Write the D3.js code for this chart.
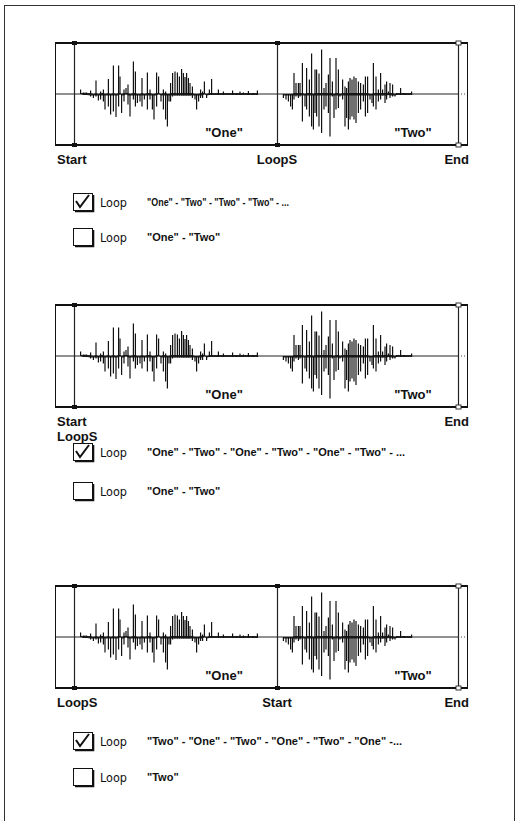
<!DOCTYPE html>
<html>
<head>
<meta charset="utf-8">
<script src="https://cdn.jsdelivr.net/npm/d3@7"></script>
<style>
  html, body { margin: 0; padding: 0; background: #fff; }
  svg { display: block; }
  .lbl { font-family: "Liberation Sans", Arial, sans-serif; font-weight: bold; font-size: 13px; fill: #111; }
  .seq { font-family: "Liberation Sans", Arial, sans-serif; font-weight: bold; font-size: 11px; fill: #111; }
  .loop { font-family: "Liberation Sans Narrow", "DejaVu Sans Condensed", sans-serif; font-stretch: condensed; font-size: 12.5px; fill: #111; }
</style>
</head>
<body>
<svg id="chart" width="520" height="821"></svg>
<script>
// ---------- DATA ----------
// Sample "One": time (ms), positive peak (%), negative peak (%)
const oneTimes = [128,142,150,158,178,192,205,217,228,242,250,267,278,292,305,318,325,333,345,355,365,375,392,402,412,425,435,447,462,475,487,495,508,518,530,542,553,562,570,578,588,600,612,622,633,642,650,658,667,675,687,700,708,718,728,738,747,758,772,783,817,842,888,908,925,942,967,992,1012];
const oneUp    = [9,3,3,3,7,0,27,0,5,9,0,30,0,57,0,57,35,0,9,12,19,0,65,45,0,0,32,0,43,9,0,0,43,35,0,9,5,0,0,22,42,45,43,35,50,42,34,42,32,22,15,0,0,0,9,5,25,0,9,30,9,5,7,2,5,3,6,2,7];
const oneDown  = [0,-2,-2,-2,-5,-8,-5,-13,-11,-15,-31,-25,-41,-35,-46,-25,0,-38,-15,0,-21,-45,-11,-25,-18,-15,-25,-11,-31,-11,-31,-51,-25,0,-15,-31,-51,-65,-15,-15,-5,-3,-3,-3,-3,-3,-3,-3,-3,-3,-8,-11,-31,-15,-8,-8,0,-8,-2,-2,-2,-2,-2,-2,-2,-2,-2,-2,-2];
// Sample "Two"
const twoTimes = [1142,1155,1167,1178,1187,1195,1205,1217,1225,1237,1250,1258,1272,1283,1292,1300,1308,1320,1333,1345,1355,1367,1375,1387,1395,1405,1417,1425,1438,1450,1458,1467,1475,1485,1495,1505,1517,1528,1542,1552,1563,1575,1585,1592,1605,1617,1628,1638,1650,1658,1667,1675,1688,1700,1708,1728,1745,1783];
const twoUp    = [0,0,0,0,0,42,22,22,22,62,0,52,29,81,0,49,49,41,89,12,22,39,72,25,0,72,49,0,29,15,12,25,32,29,35,32,25,22,19,35,35,0,0,62,35,9,42,9,19,25,5,22,19,0,2,12,2,5];
const twoDown  = [-8,-11,-15,-25,-31,-11,-5,-8,-5,-55,-25,-31,-45,-65,-71,-38,-45,-65,-78,-31,-25,-38,-85,-5,-48,-31,-28,-5,-11,-65,-48,-71,-51,-45,-51,-58,-38,-31,-15,-45,-38,-11,-18,-25,-31,-15,-11,-3,-18,-11,-2,-8,-5,-5,-2,-2,-2,-2];

const sampleNames = ['"One"', '"Two"'];
const sampleLabelTimes = [845, 1790];
const timeDomain = [0, 2065];

// Marker positions (ms) per panel
const markerStart = [95, 95, 1110];
const markerLoopS = [1110, 95, 95];
const markerEnd   = [2015, 2015, 2015];

// Text rows
const loopLabel = "Loop";
const seqChecked   = ['"One" - "Two" - "Two" - "Two" - ...',
                      '"One" - "Two" - "One" - "Two" - "One" - "Two" - ...',
                      '"Two" - "One" - "Two" - "One" - "Two" - "One" -...'];
const seqUnchecked = ['"One" - "Two"', '"One" - "Two"', '"Two"'];

// ---------- LAYOUT ----------
const svg = d3.select("#chart");
const panelTops = [43, 305, 586];
const panelH = 102;
const rowYs = [[202, 237], [452, 491], [741, 777]];
const seqCheckedWidth = [142, null, null];

const x = d3.scaleLinear().domain(timeDomain).range([55, 468]);

// outer frame
svg.append("rect").attr("x", 4.5).attr("y", 5.5).attr("width", 510).attr("height", 840)
  .attr("fill", "none").attr("stroke", "#333").attr("stroke-width", 1);

function drawPanel(i) {
  const top = panelTops[i], bot = top + panelH;
  const y = d3.scaleLinear().domain([-100, 100]).range([bot - 1, top + 1]);
  const g = svg.append("g");
  const y0 = y(0);

  // zero line: solid to End, dotted after
  g.append("line").attr("x1", x(timeDomain[0])).attr("x2", x(markerEnd[i]))
    .attr("y1", y0).attr("y2", y0).attr("stroke", "#222").attr("stroke-width", 1);
  g.append("line").attr("x1", x(markerEnd[i])).attr("x2", x(timeDomain[1]))
    .attr("y1", y0).attr("y2", y0).attr("stroke", "#444").attr("stroke-width", 1)
    .attr("stroke-dasharray", "1,2");

  // waveforms
  function wave(times, ups, downs) {
    const pts = times.map((t, k) => [t, ups[k], downs[k]]);
    g.append("path")
      .datum(pts)
      .attr("d", d3.area().x(d => x(d[0])).y0(d => y(Math.max(d[2], -3))).y1(d => y(Math.min(d[1], 2))))
      .attr("fill", "#222");
    g.selectAll(null).data(pts).enter().append("line")
      .attr("x1", d => x(d[0])).attr("x2", d => x(d[0]))
      .attr("y1", d => y(d[2])).attr("y2", d => y(d[1]))
      .attr("stroke", "#111").attr("stroke-width", 1.2);
  }
  wave(oneTimes, oneUp, oneDown);
  wave(twoTimes, twoUp, twoDown);

  // sample names
  sampleNames.forEach((n, k) => {
    g.append("text").attr("class", "lbl").attr("x", x(sampleLabelTimes[k])).attr("y", bot - 8)
      .attr("text-anchor", "middle").text(n);
  });

  // box
  g.append("rect").attr("x", x(timeDomain[0]) + 0.5).attr("y", top).attr("width", x(timeDomain[1]) - x(timeDomain[0]) - 1)
    .attr("height", panelH).attr("fill", "none").attr("stroke", "#111").attr("stroke-width", 1);
  g.append("line").attr("x1", x(timeDomain[0])).attr("x2", x(timeDomain[1])).attr("y1", top).attr("y2", top)
    .attr("stroke", "#111").attr("stroke-width", 2.2);
  g.append("line").attr("x1", x(timeDomain[0])).attr("x2", x(timeDomain[1])).attr("y1", bot).attr("y2", bot)
    .attr("stroke", "#111").attr("stroke-width", 1.8);

  // markers
  function marker(t, filled) {
    const mx = Math.round(x(t)) + 0.5;
    g.append("line").attr("x1", mx).attr("x2", mx).attr("y1", top).attr("y2", bot)
      .attr("stroke", "#222").attr("stroke-width", 1.2);
    [top, bot].forEach(yy => {
      g.append("rect").attr("x", mx - 2.5).attr("y", yy - 2).attr("width", 5).attr("height", 4)
        .attr("fill", filled ? "#111" : "#fff").attr("stroke", "#222").attr("stroke-width", filled ? 0 : 0.9);
    });
  }
  marker(markerStart[i], true);
  if (markerLoopS[i] !== markerStart[i]) marker(markerLoopS[i], true);
  marker(markerEnd[i], false);

  // marker labels
  const ly = bot + 19;
  const ends = [{name: "Start", t: markerStart[i]}, {name: "LoopS", t: markerLoopS[i]}, {name: "End", t: markerEnd[i]}];
  ends.forEach(e => {
    let anchor = "middle", xx = x(e.t), yy = ly;
    if (e.name === "End") { anchor = "end"; xx = x(timeDomain[1]) + 1; }
    else if (e.t === markerStart[0]) { anchor = "start"; xx = x(timeDomain[0]) + 2; }
    if (e.name === "LoopS" && markerLoopS[i] === markerStart[i]) yy = ly + 15;
    g.append("text").attr("class", "lbl").attr("x", xx).attr("y", yy).attr("text-anchor", anchor).text(e.name);
  });

  // rows
  [[true, seqChecked[i]], [false, seqUnchecked[i]]].forEach(([checked, txt], r) => {
    const cy = rowYs[i][r];
    const bx = 73, by = cy - 9, bw = 19, bh = 17;
    g.append("rect").attr("x", bx + 0.5).attr("y", by + 0.5).attr("width", bw).attr("height", bh)
      .attr("fill", "#fff").attr("stroke", "#111").attr("stroke-width", 1);
    g.append("path").attr("d", `M${bx + bw + 1.5},${by + 2} V${by + bh + 1.5} H${bx + 2}`)
      .attr("fill", "none").attr("stroke", "#111").attr("stroke-width", 1.6);
    if (checked) {
      g.append("path").attr("d", `M${bx + 3},${by + 8} L${bx + 7},${by + 14} L${bx + 16},${by + 2}`)
        .attr("fill", "none").attr("stroke", "#111").attr("stroke-width", 2);
    }
    g.append("text").attr("class", "loop").attr("x", 100).attr("y", cy + 4.5).text(loopLabel);
    const st = g.append("text").attr("class", "seq").attr("x", 147).attr("y", cy + 4).text(txt);
    if (checked && seqCheckedWidth[i]) st.attr("textLength", seqCheckedWidth[i]).attr("lengthAdjust", "spacingAndGlyphs");
  });
}
[0, 1, 2].forEach(drawPanel);
</script>
</body>
</html>
